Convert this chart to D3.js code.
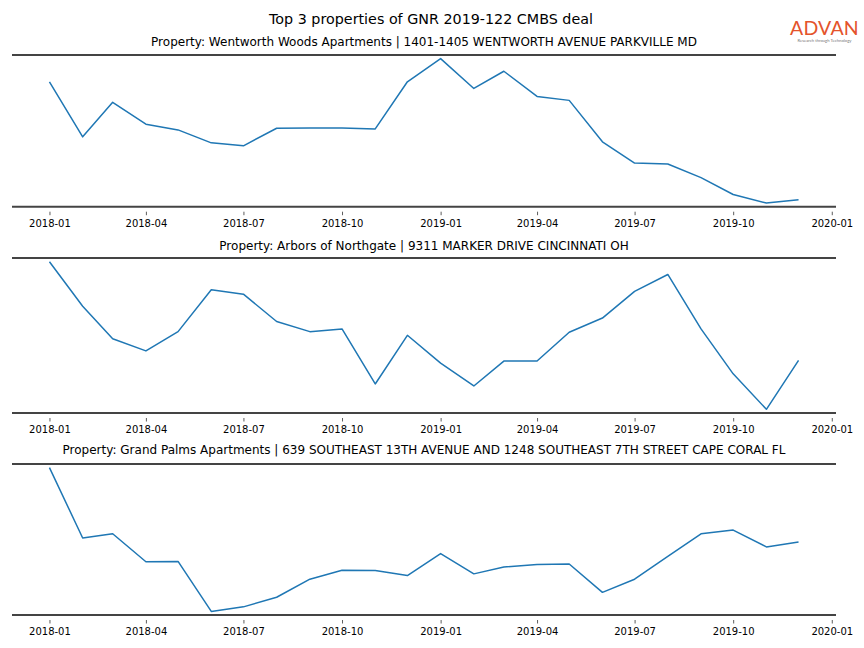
<!DOCTYPE html>
<html>
<head>
<meta charset="utf-8">
<script src="https://cdn.jsdelivr.net/npm/d3@7"></script>
<style>
  html, body { margin: 0; padding: 0; background: #fff; }
  svg { display: block; font-family: "DejaVu Sans", sans-serif; }
</style>
</head>
<body>
<svg id="chart" width="864" height="648"></svg>
<script>
// ---- data ----
const chartTitle = "Top 3 properties of GNR 2019-122 CMBS deal";
const months = ["2018-01","2018-02","2018-03","2018-04","2018-05","2018-06","2018-07","2018-08","2018-09","2018-10","2018-11","2018-12",
                "2019-01","2019-02","2019-03","2019-04","2019-05","2019-06","2019-07","2019-08","2019-09","2019-10","2019-11","2019-12"];
const propertyTitles = [
  "Property: Wentworth Woods Apartments | 1401-1405 WENTWORTH AVENUE PARKVILLE MD",
  "Property: Arbors of Northgate | 9311 MARKER DRIVE CINCINNATI OH",
  "Property: Grand Palms Apartments | 639 SOUTHEAST 13TH AVENUE AND 1248 SOUTHEAST 7TH STREET CAPE CORAL FL"
];
const wentworthValues = [124.7, 69.3, 104, 82, 76.3, 63.3, 60.3, 78, 78.3, 78.3, 77.3, 124.7,
                         148, 118, 135.3, 110, 106, 64.3, 43, 42, 28.3, 11.3, 2.7, 6];
const arborsValues    = [150.3, 106.3, 74.3, 62.3, 81.3, 122.7, 118.3, 91.3, 81.3, 84, 29.7, 77.7,
                         50.3, 27.7, 52.3, 52.3, 80.7, 94.7, 121, 137.7, 84, 39.7, 4.7, 53];
const grandPalmsValues = [148.3, 77, 81.3, 53, 53.3, 2.7, 7.3, 17, 35.3, 44.3, 44, 39,
                          61.3, 40.7, 47.7, 50.3, 50.7, 22, 35.3, 58.3, 81.3, 85, 68, 73];
const tickLabels = ["2018-01","2018-04","2018-07","2018-10","2019-01","2019-04","2019-07","2019-10","2020-01"];
const seriesList = [wentworthValues, arborsValues, grandPalmsValues];

// ---- layout ----
const svg = d3.select("#chart");
const left = 12, right = 836;
const panels = [
  {top: 55, bottom: 206.7, titleY: 42},
  {top: 258, bottom: 413, titleY: 246},
  {top: 464, bottom: 615, titleY: 450}
];
const parse = d3.timeParse("%Y-%m");
const dates = months.map(parse);
const tickDates = tickLabels.map(parse);

// x domain: data extent with 5% margins (matplotlib style)
const [d0, d1] = d3.extent(dates);
const span = d1 - d0;
const x = d3.scaleTime()
  .domain([new Date(+d0 - span * 0.05), new Date(+d1 + span * 0.05)])
  .range([left, right]);

svg.append("text")
  .attr("x", 431).attr("y", 24)
  .attr("text-anchor", "middle")
  .attr("font-size", 14.3)
  .attr("fill", "#000")
  .text(chartTitle);

// logo
const logo = svg.append("g");
logo.append("text")
  .attr("x", 824.5).attr("y", 34.5)
  .attr("text-anchor", "middle")
  .attr("font-family", "Lato, 'Open Sans', sans-serif")
  .attr("font-size", 19.5)
  .attr("font-weight", 400)
  .attr("letter-spacing", 0.2)
  .attr("fill", "#e4532b")
  .text("ADVAN");
logo.append("text")
  .attr("x", 824.5).attr("y", 41.5)
  .attr("text-anchor", "middle")
  .attr("font-family", "Lato, sans-serif")
  .attr("font-size", 4.2)
  .attr("fill", "#777")
  .text("Research through Technology");

panels.forEach((p, i) => {
  const vals = seriesList[i];
  const [mn, mx] = d3.extent(vals);
  const pad = (mx - mn) * 0.025;
  const y = d3.scaleLinear().domain([mn - pad, mx + pad]).range([p.bottom, p.top]);
  const g = svg.append("g");

  g.append("text")
    .attr("x", (left + right) / 2).attr("y", p.titleY + 4)
    .attr("text-anchor", "middle")
    .attr("font-size", 12)
    .attr("fill", "#000")
    .text(propertyTitles[i]);

  const line = d3.line()
    .x((d, j) => x(dates[j]))
    .y(d => y(d));
  g.append("path")
    .datum(vals)
    .attr("fill", "none")
    .attr("stroke", "#1f77b4")
    .attr("stroke-width", 1.5)
    .attr("stroke-linejoin", "round")
    .attr("d", line);

  // spines
  [p.top, p.bottom].forEach(yy => {
    g.append("line")
      .attr("x1", left).attr("x2", right)
      .attr("y1", yy).attr("y2", yy)
      .attr("stroke", "#444")
      .attr("stroke-width", 2);
  });

  const axis = d3.axisBottom(x)
    .tickValues(tickDates)
    .tickFormat(d3.timeFormat("%Y-%m"))
    .tickSize(3.5)
    .tickPadding(4.5);
  const ax = g.append("g")
    .attr("transform", `translate(0,${p.bottom + 5})`)
    .call(axis);
  ax.select(".domain").remove();
  ax.selectAll(".tick line").attr("stroke", "#333").attr("stroke-width", 0.8);
  ax.selectAll(".tick text")
    .attr("font-family", "DejaVu Sans, sans-serif")
    .attr("font-size", 10)
    .attr("fill", "#000");
});
</script>
</body>
</html>
